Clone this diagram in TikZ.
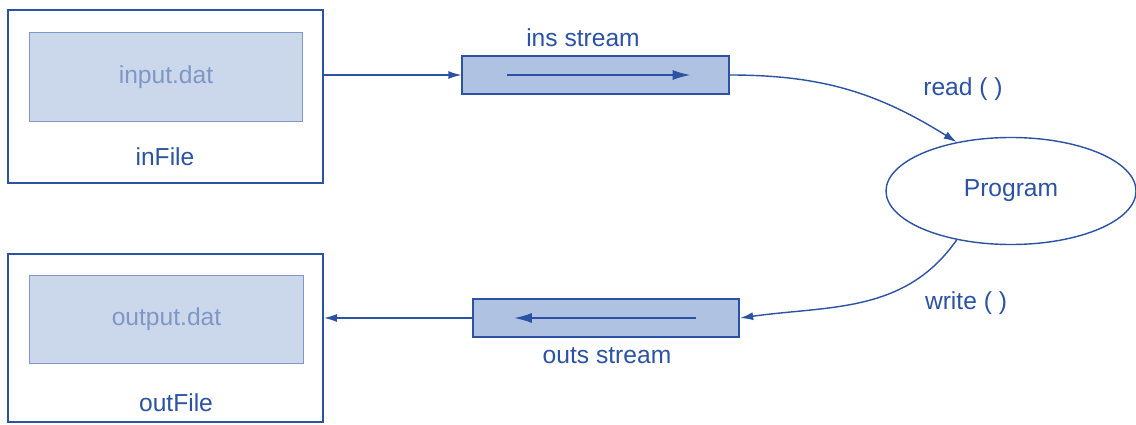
\documentclass[tikz,border=0pt]{standalone}
\usepackage{fontspec}
\setmainfont{Liberation Sans}
\usepackage{xcolor}
\usepackage{tikz}
\usetikzlibrary{arrows.meta,calc,shapes.geometric}
\definecolor{streamblue}{HTML}{2B52A3}
\definecolor{filefill}{HTML}{CBD7EA}
\definecolor{filetext}{HTML}{8097C6}
\definecolor{pipefill}{HTML}{AFC2E2}

\begin{document}
\begin{tikzpicture}[
    font=\fontsize{14}{16}\selectfont, text=streamblue,
    filebox/.style={draw=streamblue, line width=1.1pt, minimum width=6.3cm, inner sep=0pt},
    datbox/.style={draw=streamblue!60, fill=filefill, line width=0.6pt, minimum width=5.47cm, minimum height=1.77cm, text=filetext},
    pipe/.style={draw=streamblue, fill=pipefill, line width=1pt, minimum width=5.33cm, minimum height=0.76cm},
    conn/.style={draw=streamblue, line width=0.8pt, -{Latex[length=2.6mm, width=1.6mm]}},
    flow/.style={draw=streamblue, line width=1pt, -{Latex[length=3.6mm, width=2mm]}}
]
\useasboundingbox (0,0) rectangle (22.72,8.48);

% Input file
\node[filebox, minimum height=3.46cm] (infile) at (3.31, 6.55) {};
\node[datbox] (inputdat) at (3.32, 6.94) {input.dat};
\node (inlabel) at (3.30, 5.34) {inFile};

% Output file
\node[filebox, minimum height=3.36cm] (outfile) at (3.31, 1.72) {};
\node[datbox] (outputdat) at (3.33, 2.09) {output.dat};
\node (outlabel) at (3.52, 0.42) {outFile};

% Streams
\node[pipe] (ins) at (11.91, 6.98) {};
\node (inslabel) at (11.66, 7.72) {ins stream};
\draw[flow] ($(ins.west)+(0.92,0)$) -- ($(ins.east)-(0.78,0)$);

\node[pipe] (outs) at (12.12, 2.12) {};
\node (outslabel) at (12.14, 1.36) {outs stream};
\draw[flow] ($(outs.east)-(0.88,0)$) -- ($(outs.west)+(0.84,0)$);

% Program
\node[ellipse, draw=streamblue, line width=0.8pt, minimum width=5cm, minimum height=2.14cm] (prog) at (20.22, 4.66) {Program};
\node (readlabel) at (19.26, 6.70) {read ( )};
\node (writelabel) at (19.32, 2.42) {write ( )};

% Connectors
\draw[conn] (infile.east |- ins.west) -- (ins.west);
\draw[conn] (ins.east) to[out=0, in=148] (prog.138);
\draw[conn] (prog.222) to[out=235, in=8] (outs.east);
\draw[conn] (outs.west) -- (outfile.east |- outs.west);
\end{tikzpicture}
\end{document}
